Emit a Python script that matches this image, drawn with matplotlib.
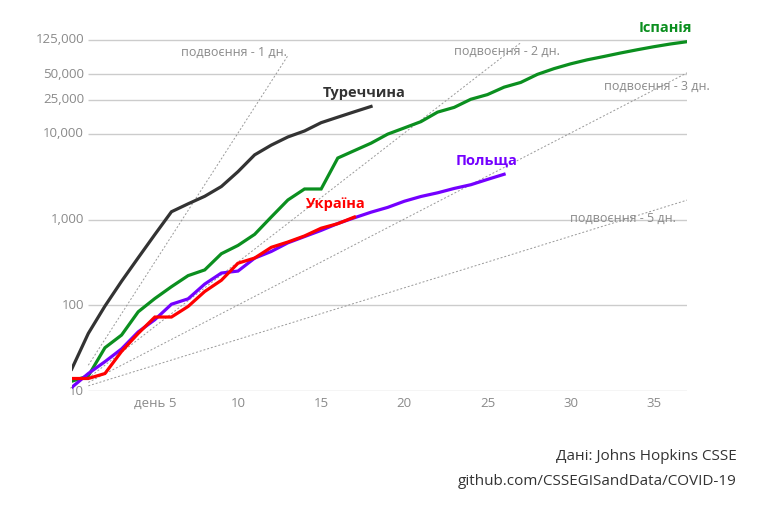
import numpy as np
import matplotlib
matplotlib.use('Agg')
import matplotlib.pyplot as plt

plt.rcParams['font.family'] = ['Open Sans', 'DejaVu Sans']

# confirmed cases, day 0 = first day with 10+ cases
turkey = [18, 47, 98, 191, 359, 670, 1236, 1529, 1872, 2433, 3629, 5698, 7402, 9217,
          10827, 13531, 15679, 18135, 20921]
spain = [13, 15, 32, 45, 84, 120, 165, 222, 259, 400, 500, 673, 1073, 1695, 2277, 2277,
         5232, 6391, 7798, 9942, 11748, 13910, 17963, 20410, 25374, 28768, 35136, 39885,
         49515, 57786, 65719, 73235, 80110, 87956, 95923, 104118, 112065, 119199]
poland = [11, 16, 22, 31, 49, 68, 103, 119, 177, 238, 251, 355, 425, 536, 634, 749, 901,
          1051, 1221, 1389, 1638, 1862, 2055, 2311, 2554, 2946, 3383]
ukraine = [14, 14, 16, 29, 47, 73, 73, 97, 145, 196, 310, 356, 475, 548, 645, 794, 897, 1072]

# doubling reference lines: doubling period (days) and last day drawn
double_periods = [1, 2, 3, 5]
double_last_day = [13, 27, 37, 37]
double_labels = ['подвоєння - 1 дн.', 'подвоєння - 2 дн.', 'подвоєння - 3 дн.', 'подвоєння - 5 дн.']

y_grid = [10, 100, 1000, 10000, 25000, 50000, 125000]
y_grid_labels = ['10', '100', '1,000', '10,000', '25,000', '50,000', '125,000']
x_ticks = [5, 10, 15, 20, 25, 30, 35]
x_tick_labels = ['день 5', '10', '15', '20', '25', '30', '35']

fig = plt.figure(figsize=(7.61, 5.19), dpi=100)
ax = fig.add_axes([0.0942, 0.2466, 0.8086, 0.7148])
ax.set_yscale('log')
ax.set_xlim(0, 37)
ax.set_ylim(10, 10 ** 5.329)

grey = '#8a8a8a'
ax.hlines(y_grid, 1, 37, color='#cccccc', lw=1, zorder=1)
for v, lab in zip(y_grid, y_grid_labels):
    ax.text(0.74, v, lab, ha='right', va='center', fontsize=9.5, color=grey)

for k, last in zip(double_periods, double_last_day):
    d = np.arange(1, last + 1)
    ax.plot(d, 10 * 2.0 ** (d / k), color='#999999', lw=0.7, ls=(0, (2, 2)), zorder=2)

# label positions for doubling lines (day, value)
dbl_pos = [(12.96, 90400), (29.36, 91000), (38.38, 35600), (36.34, 1045)]
for (x, y), lab in zip(dbl_pos, double_labels):
    ax.text(x, y, lab, ha='right', va='center', fontsize=9, color=grey, clip_on=False)

series = [
    ('Туреччина', turkey, '#333333', (17.58, 30000)),
    ('Іспанія', spain, '#0b8f1f', (35.71, 170600)),
    ('Польща', poland, '#7400ff', (24.94, 4860)),
    ('Україна', ukraine, '#ff0000', (15.86, 1521)),
]
for name, vals, col, (lx, ly) in series:
    ax.plot(range(len(vals)), vals, color=col, lw=2.3, solid_joinstyle='miter', zorder=3)
    ax.text(lx, ly, name, ha='center', va='center', fontsize=10.5, fontweight='bold',
            color=col, clip_on=False)

ax.set_xticks(x_ticks)
ax.set_xticklabels(x_tick_labels)
ax.set_yticks([])
ax.minorticks_off()
ax.tick_params(axis='x', length=0, pad=4, labelsize=9.5, labelcolor=grey)
for s in ax.spines.values():
    s.set_visible(False)

fig.text(0.9685, 0.1195, 'Дані: Johns Hopkins CSSE', ha='right', va='center',
         fontsize=11, color='#333333')
fig.text(0.9685, 0.0719, 'github.com/CSSEGISandData/COVID-19', ha='right', va='center',
         fontsize=11, color='#333333')

fig.savefig('out.png', dpi=100)
